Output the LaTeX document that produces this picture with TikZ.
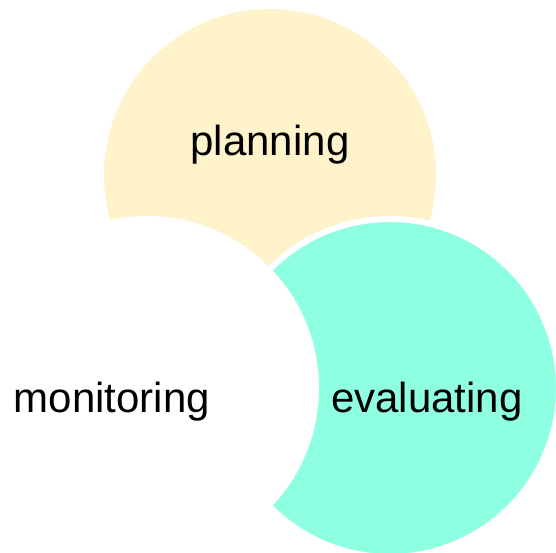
\documentclass[tikz,border=0pt]{standalone}
\usepackage{fontspec}
\setmainfont{Liberation Sans}
\definecolor{planyellow}{RGB}{255,243,204}
\definecolor{evalteal}{RGB}{143,255,225}
\tikzset{
  phase/.style={anchor=base, inner sep=0pt, font=\fontsize{42}{50}\selectfont}
}
\begin{document}
\begin{tikzpicture}[x=1pt, y=-1pt]
        \useasboundingbox (0,0) rectangle (556,553);

        \fill[planyellow] (270,175) circle (166);
        \filldraw[fill=evalteal, draw=white, line width=6pt] (390,388) circle (169);
        \filldraw[fill=white, draw=white, line width=6pt] (147,388) circle (169);

        \node[phase] (planning) at (270,156) {planning};
        \node[phase] (monitoring) at (112,412) {monitoring};
        \node[phase] (evaluating) at (427,412) {evaluating};
    \end{tikzpicture}
\end{document}
